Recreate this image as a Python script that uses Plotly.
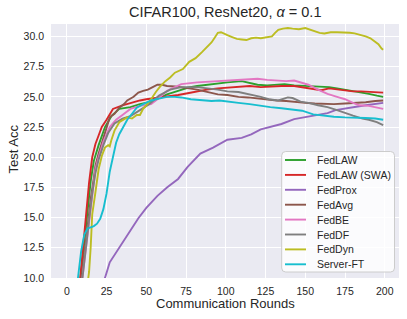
import plotly.graph_objects as go

# ---------------- data ----------------
series_names = ["FedLAW", "FedLAW (SWA)", "FedProx", "FedAvg", "FedBE", "FedDF", "FedDyn", "Server-FT"]

fedlaw_rounds = [1, 5, 9, 11, 13, 15, 17, 20, 24, 28, 33, 40, 46, 53, 58, 63, 70, 76, 82, 88, 95, 101, 110, 115,
                 120, 126, 132, 137, 143, 150, 155, 160, 165, 170, 175, 180, 185, 190, 195, 199]
fedlaw_acc = [2, 5, 10.5, 13.0, 15.5, 18.0, 19.7, 21.0, 22.5, 23.4, 24.0, 24.15, 24.4, 24.6, 24.9, 25.2, 25.5, 25.75,
              25.9, 26.0, 26.1, 26.2, 26.3, 26.15, 26.0, 25.95, 26.0, 26.05, 25.95, 25.9, 25.85, 25.8, 25.8, 25.7,
              25.6, 25.5, 25.35, 25.25, 25.1, 25.0]

swa_rounds = [1, 5, 8, 10, 12, 14, 16, 18, 20, 22, 25, 29, 35, 40, 46, 50, 56, 63, 70, 76, 82, 88, 95, 100, 110, 115,
              122, 128, 135, 143, 150, 155, 160, 165, 170, 175, 180, 185, 190, 195, 199]
swa_acc = [2, 5, 9.4, 12.3, 15.0, 17.9, 20.0, 21.1, 21.8, 22.5, 23.1, 24.0, 24.3, 24.5, 24.7, 24.8, 24.9, 25.0, 25.15,
           25.3, 25.45, 25.6, 25.7, 25.75, 25.9, 25.9, 25.8, 25.85, 25.9, 25.9, 25.75, 25.6, 25.55, 25.7, 25.6, 25.5,
           25.45, 25.45, 25.4, 25.35, 25.35]

fedprox_rounds = [1, 10, 18, 24, 27, 30, 33, 38, 42, 45, 50, 57, 63, 70, 76, 84, 92, 101, 110, 116, 122, 130, 135,
                  143, 150, 156, 164, 169, 177, 183, 188, 194, 199]
fedprox_acc = [3, 6, 8.3, 10.0, 11.3, 11.9, 12.5, 13.5, 14.3, 14.95, 15.8, 16.8, 17.5, 18.2, 19.2, 20.3, 20.8, 21.45,
               21.6, 21.9, 22.3, 22.55, 22.75, 23.15, 23.3, 23.45, 23.65, 23.9, 24.1, 24.2, 24.3, 24.4, 24.5]

fedavg_rounds = [1, 5, 9, 10, 12, 14, 15, 17, 18, 20, 22, 25, 27, 30, 33, 36, 38, 42, 45, 48, 51, 54, 57, 60, 63, 68,
                 72, 77, 82, 88, 95, 101, 108, 114, 120, 126, 132, 138, 144, 150, 156, 162, 168, 175, 182, 188, 194,
                 199]
fedavg_acc = [2, 5, 10.0, 10.8, 13.0, 15.5, 16.5, 18.3, 19.3, 20.3, 21.2, 22.6, 23.3, 23.6, 24.1, 24.4, 24.7, 25.0,
              25.35, 25.5, 25.6, 25.8, 26.0, 26.0, 25.9, 25.85, 25.8, 25.7, 25.6, 25.4, 25.2, 25.15, 25.0, 24.95,
              24.85, 24.75, 24.7, 24.65, 24.55, 24.5, 24.45, 24.4, 24.4, 24.45, 24.5, 24.55, 24.65, 24.7]

fedbe_rounds = [1, 5, 8, 10, 12, 14, 16, 18, 20, 23, 27, 31, 35, 40, 46, 53, 58, 63, 68, 72, 82, 95, 108, 120, 126,
                132, 138, 143, 148, 152, 158, 164, 170, 175, 180, 184, 190, 195, 199]
fedbe_acc = [2, 5, 8, 10.2, 12.5, 15.0, 17.3, 19.0, 20.0, 21.3, 22.5, 23.1, 23.5, 24.0, 24.25, 24.4, 24.9, 25.5, 25.8,
             26.05, 26.2, 26.3, 26.45, 26.5, 26.4, 26.35, 26.3, 26.35, 26.15, 26.0, 25.6, 25.25, 25.0, 24.8, 24.5,
             24.3, 24.25, 24.1, 24.0]

feddf_rounds = [1, 5, 10, 12, 14, 16, 18, 20, 23, 26, 30, 35, 40, 46, 52, 58, 65, 72, 82, 95, 101, 108, 116, 122, 127,
                133, 139, 142, 147, 152, 158, 164, 170, 175, 180, 186, 190, 195, 199]
feddf_acc = [2, 5, 10.2, 12.3, 14.8, 17.0, 18.7, 19.8, 21.0, 22.0, 22.8, 23.2, 23.4, 23.9, 24.4, 25.1, 25.6, 25.8,
             25.8, 25.6, 25.45, 25.4, 25.2, 25.0, 24.8, 24.7, 24.95, 24.9, 24.6, 24.5, 24.3, 24.15, 23.9, 23.65,
             23.45, 23.2, 23.1, 22.9, 22.65]

feddyn_rounds = [1, 10, 13, 14, 15, 16, 18, 20, 22, 24, 26, 27, 28, 30, 33, 38, 41, 44, 46, 48, 50, 53, 56, 59, 62,
                 65, 68, 71, 73, 77, 81, 85, 88, 91, 93, 95, 97, 99, 101, 104, 107, 110, 113, 116, 119, 122, 125,
                 129, 131, 133, 136, 139, 142, 146, 150, 153, 156, 159, 162, 166, 170, 175, 178, 181, 184, 188, 191,
                 193, 196, 198, 199]
feddyn_acc = [1, 6, 9.5, 10.5, 12.5, 15.3, 17.1, 19.0, 20.1, 20.8, 21.0, 20.9, 21.4, 22.2, 22.9, 23.3, 23.2, 23.5,
              23.5, 24.0, 24.3, 24.8, 25.4, 25.9, 26.3, 26.6, 27.0, 27.2, 27.3, 27.9, 28.2, 28.7, 29.1, 29.5, 29.9,
              30.3, 30.35, 30.2, 30.1, 29.95, 29.8, 29.75, 29.7, 29.85, 29.9, 29.85, 29.9, 30.0, 30.3, 30.55, 30.65,
              30.7, 30.65, 30.6, 30.7, 30.55, 30.4, 30.3, 30.25, 30.35, 30.35, 30.35, 30.3, 30.25, 30.15, 30.0,
              29.85, 29.65, 29.35, 29.0, 28.9]

serverft_rounds = [1, 5, 7, 9, 11, 13, 15, 17, 19, 21, 23, 25, 27, 29, 31, 33, 36, 38, 41, 44, 48, 53, 58, 63, 68, 72,
                   78, 85, 91, 96, 101, 108, 115, 122, 128, 135, 142, 148, 155, 160, 168, 175, 181, 188, 194, 199]
serverft_acc = [3, 7, 10, 12.2, 13.6, 14.1, 14.2, 14.3, 14.5, 14.9, 15.7, 17.0, 18.8, 20.1, 21.2, 21.9, 22.6, 23.1,
                23.6, 24.1, 24.4, 24.7, 24.85, 25.0, 25.0, 24.95, 24.8, 24.75, 24.65, 24.7, 24.6, 24.5, 24.4, 24.25,
                24.15, 24.05, 23.95, 23.85, 23.55, 23.45, 23.35, 23.3, 23.3, 23.25, 23.2, 23.1]

x_ticks = [0, 25, 50, 75, 100, 125, 150, 175, 200]
y_ticks = [10.0, 12.5, 15.0, 17.5, 20.0, 22.5, 25.0, 27.5, 30.0]

series_rounds = [fedlaw_rounds, swa_rounds, fedprox_rounds, fedavg_rounds, fedbe_rounds, feddf_rounds,
                 feddyn_rounds, serverft_rounds]
series_acc = [fedlaw_acc, swa_acc, fedprox_acc, fedavg_acc, fedbe_acc, feddf_acc, feddyn_acc, serverft_acc]

# ---------------- styling ----------------
colors = ["#2ca02c", "#d62728", "#9467bd", "#8c564b", "#e377c2", "#7f7f7f", "#bcbd22", "#17becf"]
FONT = "Liberation Sans, Arial, Helvetica, sans-serif"
TXT = "#262626"

W, H = 407, 319
ML, MR, MT, MB = 51, 8, 24, 41
PW, PH = W - ML - MR, H - MT - MB

fig = go.Figure()
for name, xs, ys, c in zip(series_names, series_rounds, series_acc, colors):
    fig.add_trace(go.Scatter(x=xs, y=ys, mode="lines", name=name,
                             line=dict(color=c, width=1.9), showlegend=False, hoverinfo="skip"))


def px2paper(px, py):
    return (px - ML) / PW, (H - MB - py) / PH


# legend (drawn as a framed box in paper coordinates)
bx0, by0 = px2paper(281.7, 151.5)
bx1, by1 = px2paper(394.5, 272.0)
rx, ry = 4 / PW, 4 / PH
path = (f"M {bx0 + rx},{by0} L {bx1 - rx},{by0} Q {bx1},{by0} {bx1},{by0 - ry} "
        f"L {bx1},{by1 + ry} Q {bx1},{by1} {bx1 - rx},{by1} L {bx0 + rx},{by1} "
        f"Q {bx0},{by1} {bx0},{by1 + ry} L {bx0},{by0 - ry} Q {bx0},{by0} {bx0 + rx},{by0} Z")
shapes = [dict(type="path", path=path, xref="paper", yref="paper", layer="above",
               fillcolor="rgba(255,255,255,0.8)", line=dict(color="#cccccc", width=1))]
annotations = []
for i, (name, c) in enumerate(zip(series_names, colors)):
    cy = 160.0 + i * 14.9
    lx0, ly = px2paper(285, cy)
    lx1, _ = px2paper(306, cy)
    tx, _ = px2paper(315, cy)
    shapes.append(dict(type="line", xref="paper", yref="paper", x0=lx0, x1=lx1, y0=ly, y1=ly,
                       layer="above", line=dict(color=c, width=1.9)))
    annotations.append(dict(text=name, xref="paper", yref="paper", x=tx, y=ly, xanchor="left",
                            yanchor="middle", showarrow=False, font=dict(family=FONT, size=10.5, color=TXT)))

# title and axis titles
tx_, ty_ = px2paper(225, 12.4)
annotations.append(dict(text="CIFAR100, ResNet20, <i>α</i> = 0.1", xref="paper", yref="paper", x=tx_, y=ty_,
                        xanchor="center", yanchor="middle", showarrow=False,
                        font=dict(size=14.5, family=FONT, color=TXT)))
xtx, xty = px2paper(225, 303.5)
annotations.append(dict(text="Communication Rounds", xref="paper", yref="paper", x=xtx, y=xty,
                        xanchor="center", yanchor="middle", showarrow=False,
                        font=dict(size=13, family=FONT, color=TXT)))
ytx, yty = px2paper(12.5, 149)
annotations.append(dict(text="Test Acc", xref="paper", yref="paper", x=ytx, y=yty, textangle=-90,
                        xanchor="center", yanchor="middle", showarrow=False,
                        font=dict(size=13, family=FONT, color=TXT)))

fig.update_layout(
    width=W, height=H,
    margin=dict(l=ML, r=MR, t=MT, b=MB),
    paper_bgcolor="white", plot_bgcolor="#EAEAF2",
    font=dict(family=FONT, color=TXT),
    shapes=shapes, annotations=annotations,
    hovermode=False,
)
fig.update_xaxes(range=[-9.95, 208.95], tickvals=x_ticks, ticktext=[str(v) for v in x_ticks],
                 showgrid=True, gridcolor="white", gridwidth=1, zeroline=False, showline=False,
                 ticks="", ticklabelstandoff=5, tickfont=dict(size=10.5, family=FONT, color=TXT))
fig.update_yaxes(range=[10, 31.03], tickvals=y_ticks, ticktext=[f"{v:.1f}" for v in y_ticks],
                 showgrid=True, gridcolor="white", gridwidth=1, zeroline=False, showline=False,
                 ticks="", ticklabelstandoff=6, tickfont=dict(size=10.5, family=FONT, color=TXT))

fig.write_html("out.html", config={"displayModeBar": False},
               post_script="document.body.style.margin='0';document.body.style.overflow='hidden';")
